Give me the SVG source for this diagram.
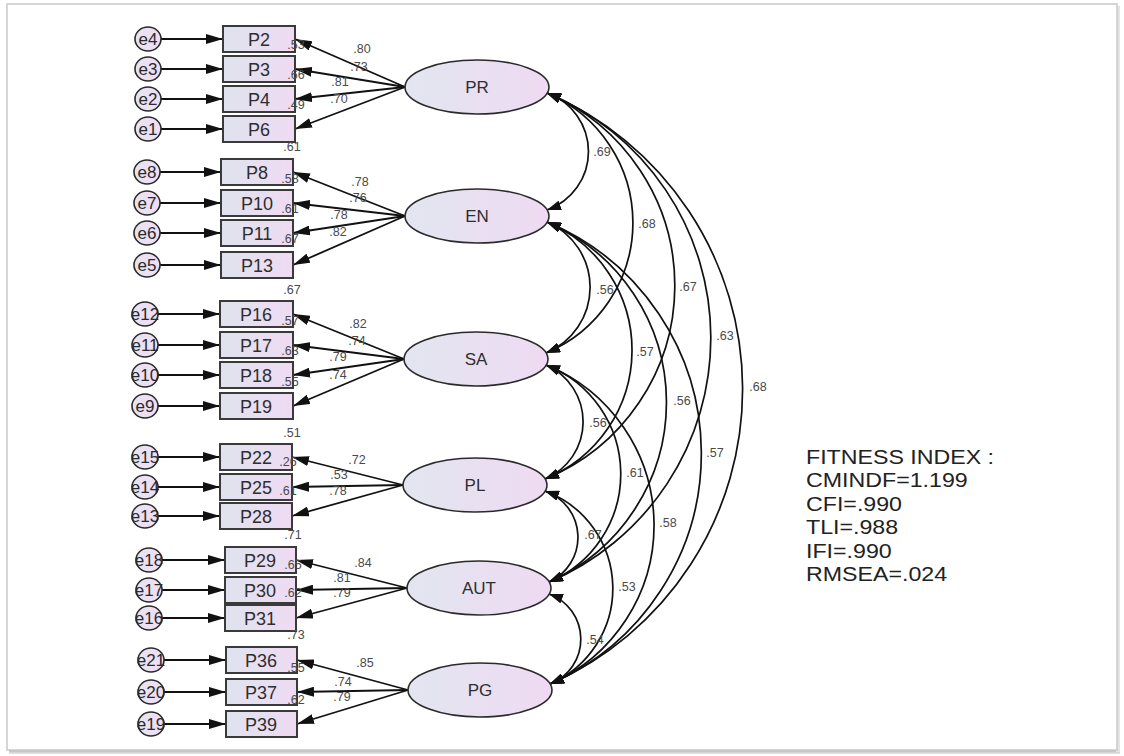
<svg xmlns="http://www.w3.org/2000/svg" width="1124" height="756" viewBox="0 0 1124 756">
<style>
.obs{stroke:#3a3a3a;stroke-width:2;fill:url(#gBox)}
.lat{stroke:#2a2a2a;stroke-width:1.6;fill:url(#gLat)}
.err{stroke:#2a2a2a;stroke-width:1.6;fill:url(#gErr)}
.ln{stroke:#111;stroke-width:1.8;fill:none;marker-end:url(#ah)}
.cov{stroke:#111;stroke-width:1.7;fill:none;marker-start:url(#ac);marker-end:url(#ac)}
.t1{font-family:"Liberation Sans",Arial,sans-serif;font-size:18px;fill:#2e2e2e;text-anchor:middle}
.t2{font-family:"Liberation Sans",Arial,sans-serif;font-size:17px;fill:#2e2e2e;text-anchor:middle}
.te{font-family:"Liberation Sans",Arial,sans-serif;font-size:17px;fill:#2a2a2a;text-anchor:middle}
.n{font-family:"Liberation Sans",Arial,sans-serif;font-size:12.5px;fill:#4a4a4a;text-anchor:middle}
.fit{font-family:"Liberation Sans",Arial,sans-serif;font-size:20px;fill:#222}
</style>
<defs>
<linearGradient id="gBox" x1="0" y1="0" x2="1" y2="0"><stop offset="0" stop-color="#dfe3ee"/><stop offset="1" stop-color="#efdbf3"/></linearGradient>
<linearGradient id="gLat" x1="0" y1="0" x2="1" y2="0"><stop offset="0" stop-color="#e2e6f0"/><stop offset="1" stop-color="#efdaf3"/></linearGradient>
<linearGradient id="gErr" x1="0" y1="0" x2="1" y2="0"><stop offset="0" stop-color="#e6e4f1"/><stop offset="1" stop-color="#f1ddf4"/></linearGradient>
<linearGradient id="gSh" x1="0" y1="0" x2="0" y2="1"><stop offset="0" stop-color="#a8a8a8"/><stop offset="1" stop-color="#e8e8e8"/></linearGradient>
<marker id="ah" viewBox="0 0 17 10" refX="17" refY="5" markerWidth="17" markerHeight="10" markerUnits="userSpaceOnUse" orient="auto-start-reverse"><path d="M0,0L17,5L0,10z" fill="#111"/></marker>
<marker id="ac" viewBox="0 0 14 10" refX="14" refY="5" markerWidth="14" markerHeight="10" markerUnits="userSpaceOnUse" orient="auto-start-reverse"><path d="M0,0L14,5L0,10z" fill="#111"/></marker>
</defs>
<rect x="0" y="0" width="1124" height="756" fill="#ffffff"/>
<rect x="9" y="749" width="1111" height="5" fill="url(#gSh)"/>
<rect x="1116" y="6" width="4" height="746" fill="#e4e4e4"/>
<rect x="7" y="4" width="1110" height="746" fill="#ffffff" stroke="#c9c9c9" stroke-width="1.5"/>

<g id="connectors">
<line class="ln" x1="161" y1="39" x2="223" y2="39"/>
<line class="ln" x1="161" y1="69" x2="223" y2="69"/>
<line class="ln" x1="161" y1="99" x2="223" y2="99"/>
<line class="ln" x1="161" y1="129" x2="223" y2="129"/>
<line class="ln" x1="160" y1="172" x2="221" y2="172"/>
<line class="ln" x1="160" y1="203" x2="221" y2="203"/>
<line class="ln" x1="160" y1="233" x2="221" y2="233"/>
<line class="ln" x1="160" y1="265" x2="221" y2="265"/>
<line class="ln" x1="158" y1="314" x2="220" y2="314"/>
<line class="ln" x1="158" y1="345" x2="220" y2="345"/>
<line class="ln" x1="158" y1="375" x2="220" y2="375"/>
<line class="ln" x1="158" y1="406" x2="220" y2="406"/>
<line class="ln" x1="158" y1="457" x2="220" y2="457"/>
<line class="ln" x1="158" y1="487" x2="220" y2="487"/>
<line class="ln" x1="158" y1="516" x2="220" y2="516"/>
<line class="ln" x1="162" y1="560" x2="225" y2="560"/>
<line class="ln" x1="162" y1="590" x2="225" y2="590"/>
<line class="ln" x1="162" y1="618" x2="225" y2="618"/>
<line class="ln" x1="164" y1="660" x2="226" y2="660"/>
<line class="ln" x1="164" y1="692" x2="226" y2="692"/>
<line class="ln" x1="164" y1="724" x2="226" y2="724"/>
<line class="ln" x1="405" y1="87" x2="295" y2="39"/>
<line class="ln" x1="405" y1="87" x2="295" y2="69"/>
<line class="ln" x1="405" y1="87" x2="295" y2="99"/>
<line class="ln" x1="405" y1="87" x2="295" y2="129"/>
<line class="ln" x1="405" y1="216" x2="293" y2="172"/>
<line class="ln" x1="405" y1="216" x2="293" y2="203"/>
<line class="ln" x1="405" y1="216" x2="293" y2="233"/>
<line class="ln" x1="405" y1="216" x2="293" y2="265"/>
<line class="ln" x1="404" y1="359" x2="293" y2="314"/>
<line class="ln" x1="404" y1="359" x2="293" y2="345"/>
<line class="ln" x1="404" y1="359" x2="293" y2="375"/>
<line class="ln" x1="404" y1="359" x2="293" y2="406"/>
<line class="ln" x1="403" y1="485" x2="292" y2="457"/>
<line class="ln" x1="403" y1="485" x2="292" y2="487"/>
<line class="ln" x1="403" y1="485" x2="292" y2="516"/>
<line class="ln" x1="407" y1="588" x2="296" y2="560"/>
<line class="ln" x1="407" y1="588" x2="296" y2="590"/>
<line class="ln" x1="407" y1="588" x2="296" y2="618"/>
<line class="ln" x1="408" y1="690" x2="297" y2="660"/>
<line class="ln" x1="408" y1="690" x2="297" y2="692"/>
<line class="ln" x1="408" y1="690" x2="297" y2="724"/>
<path class="cov" d="M547,93 A62,62 0 0 1 547,210"/>
<path class="cov" d="M547,93 A141,141 0 0 1 546,353"/>
<path class="cov" d="M547,93 A209,209 0 0 1 545,479"/>
<path class="cov" d="M547,93 A265,265 0 0 1 549,582"/>
<path class="cov" d="M547,93 A322,322 0 0 1 550,684"/>
<path class="cov" d="M547,222 A71,71 0 0 1 546,353"/>
<path class="cov" d="M547,222 A139,139 0 0 1 545,479"/>
<path class="cov" d="M547,222 A196,196 0 0 1 549,582"/>
<path class="cov" d="M547,222 A251,251 0 0 1 550,684"/>
<path class="cov" d="M546,365 A62,62 0 0 1 545,479"/>
<path class="cov" d="M546,365 A117,117 0 0 1 549,582"/>
<path class="cov" d="M546,365 A173,173 0 0 1 550,684"/>
<path class="cov" d="M545,491 A49,49 0 0 1 549,582"/>
<path class="cov" d="M545,491 A104,104 0 0 1 550,684"/>
<path class="cov" d="M549,594 A48,48 0 0 1 550,684"/>
</g>

<g id="PR"><ellipse class="lat" cx="477" cy="87" rx="72" ry="27"/><text class="t2" x="477" y="93">PR</text></g>
<g id="EN"><ellipse class="lat" cx="477" cy="216" rx="72" ry="27"/><text class="t2" x="477" y="222">EN</text></g>
<g id="SA"><ellipse class="lat" cx="476" cy="359" rx="72" ry="27"/><text class="t2" x="476" y="365">SA</text></g>
<g id="PL"><ellipse class="lat" cx="475" cy="485" rx="72" ry="27"/><text class="t2" x="475" y="491">PL</text></g>
<g id="AUT"><ellipse class="lat" cx="479" cy="588" rx="72" ry="27"/><text class="t2" x="479" y="594">AUT</text></g>
<g id="PG"><ellipse class="lat" cx="480" cy="690" rx="72" ry="27"/><text class="t2" x="480" y="696">PG</text></g>

<g id="P2"><rect class="obs" x="223" y="26" width="72" height="26"/><text class="t1" x="259" y="46">P2</text></g>
<g id="P3"><rect class="obs" x="223" y="56" width="72" height="26"/><text class="t1" x="259" y="76">P3</text></g>
<g id="P4"><rect class="obs" x="223" y="86" width="72" height="26"/><text class="t1" x="259" y="106">P4</text></g>
<g id="P6"><rect class="obs" x="223" y="116" width="72" height="26"/><text class="t1" x="259" y="136">P6</text></g>
<g id="P8"><rect class="obs" x="221" y="159" width="72" height="26"/><text class="t1" x="257" y="179">P8</text></g>
<g id="P10"><rect class="obs" x="221" y="190" width="72" height="26"/><text class="t1" x="257" y="210">P10</text></g>
<g id="P11"><rect class="obs" x="221" y="220" width="72" height="26"/><text class="t1" x="257" y="240">P11</text></g>
<g id="P13"><rect class="obs" x="221" y="252" width="72" height="26"/><text class="t1" x="257" y="272">P13</text></g>
<g id="P16"><rect class="obs" x="220" y="301" width="73" height="26"/><text class="t1" x="256" y="321">P16</text></g>
<g id="P17"><rect class="obs" x="220" y="332" width="73" height="26"/><text class="t1" x="256" y="352">P17</text></g>
<g id="P18"><rect class="obs" x="220" y="362" width="73" height="26"/><text class="t1" x="256" y="382">P18</text></g>
<g id="P19"><rect class="obs" x="220" y="393" width="73" height="26"/><text class="t1" x="256" y="413">P19</text></g>
<g id="P22"><rect class="obs" x="220" y="444" width="72" height="26"/><text class="t1" x="256" y="464">P22</text></g>
<g id="P25"><rect class="obs" x="220" y="474" width="72" height="26"/><text class="t1" x="256" y="494">P25</text></g>
<g id="P28"><rect class="obs" x="220" y="503" width="72" height="26"/><text class="t1" x="256" y="523">P28</text></g>
<g id="P29"><rect class="obs" x="225" y="547" width="71" height="26"/><text class="t1" x="260" y="567">P29</text></g>
<g id="P30"><rect class="obs" x="225" y="577" width="71" height="26"/><text class="t1" x="260" y="597">P30</text></g>
<g id="P31"><rect class="obs" x="225" y="605" width="71" height="26"/><text class="t1" x="260" y="625">P31</text></g>
<g id="P36"><rect class="obs" x="226" y="647" width="71" height="26"/><text class="t1" x="261" y="667">P36</text></g>
<g id="P37"><rect class="obs" x="226" y="679" width="71" height="26"/><text class="t1" x="261" y="699">P37</text></g>
<g id="P39"><rect class="obs" x="226" y="711" width="71" height="26"/><text class="t1" x="261" y="731">P39</text></g>

<g id="e4"><ellipse class="err" cx="148" cy="39" rx="13" ry="12"/><text class="te" x="148" y="45">e4</text></g>
<g id="e3"><ellipse class="err" cx="148" cy="69" rx="13" ry="12"/><text class="te" x="148" y="75">e3</text></g>
<g id="e2"><ellipse class="err" cx="148" cy="99" rx="13" ry="12"/><text class="te" x="148" y="105">e2</text></g>
<g id="e1"><ellipse class="err" cx="148" cy="129" rx="13" ry="12"/><text class="te" x="148" y="135">e1</text></g>
<g id="e8"><ellipse class="err" cx="147" cy="172" rx="13" ry="12"/><text class="te" x="147" y="178">e8</text></g>
<g id="e7"><ellipse class="err" cx="147" cy="203" rx="13" ry="12"/><text class="te" x="147" y="209">e7</text></g>
<g id="e6"><ellipse class="err" cx="147" cy="233" rx="13" ry="12"/><text class="te" x="147" y="239">e6</text></g>
<g id="e5"><ellipse class="err" cx="147" cy="265" rx="13" ry="12"/><text class="te" x="147" y="271">e5</text></g>
<g id="e12"><ellipse class="err" cx="145" cy="314" rx="13" ry="12"/><text class="te" x="145" y="320">e12</text></g>
<g id="e11"><ellipse class="err" cx="145" cy="345" rx="13" ry="12"/><text class="te" x="145" y="351">e11</text></g>
<g id="e10"><ellipse class="err" cx="145" cy="375" rx="13" ry="12"/><text class="te" x="145" y="381">e10</text></g>
<g id="e9"><ellipse class="err" cx="145" cy="406" rx="13" ry="12"/><text class="te" x="145" y="412">e9</text></g>
<g id="e15"><ellipse class="err" cx="145" cy="457" rx="13" ry="12"/><text class="te" x="145" y="463">e15</text></g>
<g id="e14"><ellipse class="err" cx="145" cy="487" rx="13" ry="12"/><text class="te" x="145" y="493">e14</text></g>
<g id="e13"><ellipse class="err" cx="145" cy="516" rx="13" ry="12"/><text class="te" x="145" y="522">e13</text></g>
<g id="e18"><ellipse class="err" cx="149" cy="560" rx="13" ry="12"/><text class="te" x="149" y="566">e18</text></g>
<g id="e17"><ellipse class="err" cx="149" cy="590" rx="13" ry="12"/><text class="te" x="149" y="596">e17</text></g>
<g id="e16"><ellipse class="err" cx="149" cy="618" rx="13" ry="12"/><text class="te" x="149" y="624">e16</text></g>
<g id="e21"><ellipse class="err" cx="151" cy="660" rx="13" ry="12"/><text class="te" x="151" y="666">e21</text></g>
<g id="e20"><ellipse class="err" cx="151" cy="692" rx="13" ry="12"/><text class="te" x="151" y="698">e20</text></g>
<g id="e19"><ellipse class="err" cx="151" cy="724" rx="13" ry="12"/><text class="te" x="151" y="730">e19</text></g>

<g id="estimates">
<text class="n" x="362" y="53">.80</text><text class="n" x="359" y="71">.73</text><text class="n" x="340" y="86">.81</text><text class="n" x="339" y="103">.70</text>
<text class="n" x="296" y="49">.53</text><text class="n" x="296" y="79">.66</text><text class="n" x="296" y="109">.49</text><text class="n" x="292" y="151">.61</text>
<text class="n" x="360" y="186">.78</text><text class="n" x="358" y="202">.76</text><text class="n" x="339" y="219">.78</text><text class="n" x="338" y="236">.82</text>
<text class="n" x="290" y="183">.58</text><text class="n" x="290" y="213">.61</text><text class="n" x="290" y="243">.67</text><text class="n" x="292" y="294">.67</text>
<text class="n" x="358" y="328">.82</text><text class="n" x="357" y="345">.74</text><text class="n" x="338" y="361">.79</text><text class="n" x="338" y="379">.74</text>
<text class="n" x="290" y="325">.57</text><text class="n" x="290" y="355">.63</text><text class="n" x="290" y="386">.55</text><text class="n" x="292" y="437">.51</text>
<text class="n" x="357" y="464">.72</text><text class="n" x="339" y="479">.53</text><text class="n" x="338" y="495">.78</text>
<text class="n" x="288" y="466">.26</text><text class="n" x="288" y="495">.61</text><text class="n" x="293" y="539">.71</text>
<text class="n" x="363" y="567">.84</text><text class="n" x="342" y="582">.81</text><text class="n" x="342" y="597">.79</text>
<text class="n" x="293" y="569">.65</text><text class="n" x="293" y="597">.62</text><text class="n" x="296" y="639">.73</text>
<text class="n" x="365" y="667">.85</text><text class="n" x="343" y="686">.74</text><text class="n" x="342" y="701">.79</text>
<text class="n" x="296" y="672">.55</text><text class="n" x="296" y="704">.62</text>
<text class="n" x="602" y="156">.69</text><text class="n" x="647" y="228">.68</text><text class="n" x="688" y="291">.67</text><text class="n" x="725" y="340">.63</text><text class="n" x="758" y="391">.68</text>
<text class="n" x="605" y="294">.56</text><text class="n" x="645" y="356">.57</text><text class="n" x="682" y="405">.56</text><text class="n" x="715" y="457">.57</text>
<text class="n" x="598" y="427">.56</text><text class="n" x="635" y="477">.61</text><text class="n" x="668" y="527">.58</text>
<text class="n" x="593" y="539">.67</text><text class="n" x="627" y="591">.53</text><text class="n" x="595" y="644">.54</text>
</g>

<g id="fitness" transform="translate(806 0) scale(1.16 1)">
<text class="fit" x="0" y="464">FITNESS INDEX :</text>
<text class="fit" x="0" y="487">CMINDF=1.199</text>
<text class="fit" x="0" y="511">CFI=.990</text>
<text class="fit" x="0" y="534">TLI=.988</text>
<text class="fit" x="0" y="558">IFI=.990</text>
<text class="fit" x="0" y="581">RMSEA=.024</text>
</g>
</svg>
